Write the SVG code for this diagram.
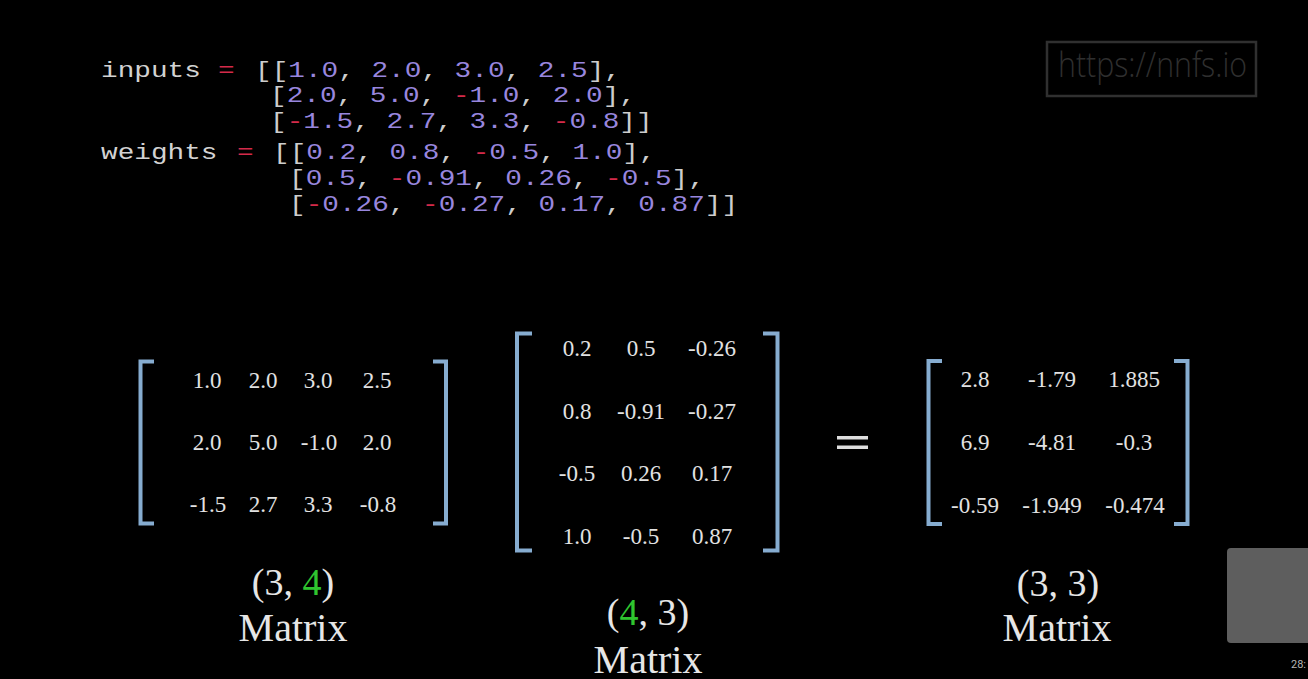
<svg xmlns="http://www.w3.org/2000/svg" width="1308" height="679" viewBox="0 0 1308 679">
<defs>
<style>
.code{font-family:"Liberation Mono","DejaVu Sans Mono",monospace;font-size:22px;fill:#cdcdcd}
.id{fill:#d2d2d2}
.op{fill:#d42a4a}
.n{fill:#9886de}
.m{font-family:"Liberation Serif","Times New Roman",serif;font-size:23px;fill:#e2e2e2;text-anchor:middle}
.lbl{font-family:"Liberation Serif","Times New Roman",serif;font-size:38px;fill:#e6e6e6;text-anchor:middle}
.g{fill:#2fc52f}
.br{fill:none;stroke:#86acd0;stroke-width:4}
</style>
</defs>
<rect width="1308" height="679" fill="#000"/>

<g id="code" class="code" transform="scale(1.26 1)">
<text x="80.2" y="77" class="id">inputs</text>
<text x="173" y="77" class="op">=</text>
<text x="202.4" y="77">[[<tspan class="n">1.0</tspan>, <tspan class="n">2.0</tspan>, <tspan class="n">3.0</tspan>, <tspan class="n">2.5</tspan>],</text>
<text x="214.3" y="102">[<tspan class="n">2.0</tspan>, <tspan class="n">5.0</tspan>, <tspan class="op">-</tspan><tspan class="n">1.0</tspan>, <tspan class="n">2.0</tspan>],</text>
<text x="214.3" y="128">[<tspan class="op">-</tspan><tspan class="n">1.5</tspan>, <tspan class="n">2.7</tspan>, <tspan class="n">3.3</tspan>, <tspan class="op">-</tspan><tspan class="n">0.8</tspan>]]</text>
<text x="80.2" y="159" class="id">weights</text>
<text x="188.1" y="159" class="op">=</text>
<text x="216.7" y="159">[[<tspan class="n">0.2</tspan>, <tspan class="n">0.8</tspan>, <tspan class="op">-</tspan><tspan class="n">0.5</tspan>, <tspan class="n">1.0</tspan>],</text>
<text x="229.4" y="185">[<tspan class="n">0.5</tspan>, <tspan class="op">-</tspan><tspan class="n">0.91</tspan>, <tspan class="n">0.26</tspan>, <tspan class="op">-</tspan><tspan class="n">0.5</tspan>],</text>
<text x="229.4" y="211">[<tspan class="op">-</tspan><tspan class="n">0.26</tspan>, <tspan class="op">-</tspan><tspan class="n">0.27</tspan>, <tspan class="n">0.17</tspan>, <tspan class="n">0.87</tspan>]]</text>
</g>

<g id="watermark">
<rect x="1047" y="42" width="209" height="54" fill="none" stroke="#303030" stroke-width="2.5"/>
<text x="1058" y="77" textLength="189" lengthAdjust="spacingAndGlyphs" style="font-family:'Open Sans','Noto Sans',sans-serif;font-weight:300;font-size:34px;fill:#2f2f2f">https://nnfs.io</text>
</g>

<g id="matrix-inputs">
<path class="br" d="M154 361.5H140.5V523.5H154"/>
<path class="br" d="M433 361.5H446V523.5H433"/>
<text class="m" x="207" y="388">1.0</text><text class="m" x="263" y="388">2.0</text><text class="m" x="318" y="388">3.0</text><text class="m" x="377" y="388">2.5</text>
<text class="m" x="207" y="450">2.0</text><text class="m" x="263" y="450">5.0</text><text class="m" x="319" y="450">-1.0</text><text class="m" x="377" y="450">2.0</text>
<text class="m" x="208" y="512">-1.5</text><text class="m" x="263" y="512">2.7</text><text class="m" x="318" y="512">3.3</text><text class="m" x="378" y="512">-0.8</text>
</g>

<g id="matrix-weights">
<path class="br" d="M532 333.5H517V550.5H532"/>
<path class="br" d="M763 333.5H777.5V550.5H763"/>
<text class="m" x="577" y="356">0.2</text><text class="m" x="641" y="356">0.5</text><text class="m" x="712" y="356">-0.26</text>
<text class="m" x="577" y="419">0.8</text><text class="m" x="641" y="419">-0.91</text><text class="m" x="712" y="419">-0.27</text>
<text class="m" x="577" y="481">-0.5</text><text class="m" x="641" y="481">0.26</text><text class="m" x="712" y="481">0.17</text>
<text class="m" x="577" y="544">1.0</text><text class="m" x="641" y="544">-0.5</text><text class="m" x="712" y="544">0.87</text>
</g>

<g id="equals">
<rect x="837" y="436" width="31" height="3.5" fill="#dedede"/>
<rect x="837" y="445.5" width="31" height="3.5" fill="#dedede"/>
</g>

<g id="matrix-output">
<path class="br" d="M942 361H928.5V524H942"/>
<path class="br" d="M1174 361H1187.5V524H1174"/>
<text class="m" x="975" y="387">2.8</text><text class="m" x="1052" y="387">-1.79</text><text class="m" x="1134" y="387">1.885</text>
<text class="m" x="975" y="450">6.9</text><text class="m" x="1052" y="450">-4.81</text><text class="m" x="1134" y="450">-0.3</text>
<text class="m" x="975" y="513">-0.59</text><text class="m" x="1052" y="513">-1.949</text><text class="m" x="1135" y="513">-0.474</text>
</g>

<g id="label-inputs">
<text class="lbl" x="293" y="595">(3, <tspan class="g">4</tspan>)</text>
<text class="lbl" x="293" y="641" style="font-size:40px">Matrix</text>
</g>
<g id="label-weights">
<text class="lbl" x="648" y="625">(<tspan class="g">4</tspan>, 3)</text>
<text class="lbl" x="648" y="673" style="font-size:40px">Matrix</text>
</g>
<g id="label-output">
<text class="lbl" x="1058" y="596">(3, 3)</text>
<text class="lbl" x="1057" y="641" style="font-size:40px">Matrix</text>
</g>

<g id="thumb">
<rect x="1227" y="548" width="90" height="95" rx="4" fill="#5e5e5e"/>
<text x="1291" y="668" style="font-family:Roboto,'Liberation Sans',sans-serif;font-size:11px;fill:#b5b5b5">28:</text>
</g>
</svg>
